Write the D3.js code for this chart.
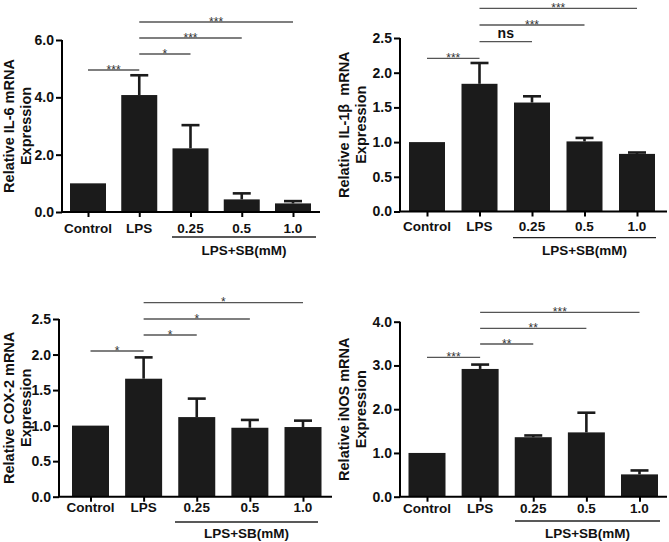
<!DOCTYPE html>
<html>
<head>
<meta charset="utf-8">
<script src="https://cdn.jsdelivr.net/npm/d3@7"></script>
<style>
  html, body { margin: 0; padding: 0; background: #fff; }
  svg { display: block; font-family: "Liberation Sans", Arial, Helvetica, sans-serif; }
</style>
</head>
<body>
<svg id="chart" width="669" height="542"></svg>
<script>
// ---------- DATA ----------
const categories = ["Control", "LPS", "0.25", "0.5", "1.0"];
const groupLabel = "LPS+SB(mM)";

const il6Mean = [1.0, 4.08, 2.22, 0.44, 0.30];
const il6Err  = [0, 0.69, 0.81, 0.21, 0.08];
const il6Ticks = [0, 2, 4, 6];
const il6Sig = [["Control", "LPS", "***"], ["LPS", "0.25", "*"], ["LPS", "0.5", "***"], ["LPS", "1.0", "***"]];

const il1bMean = [1.0, 1.84, 1.57, 1.01, 0.83];
const il1bErr  = [0, 0.30, 0.09, 0.05, 0.02];
const il1bTicks = [0, 0.5, 1.0, 1.5, 2.0, 2.5];
const il1bSig = [["Control", "LPS", "***"], ["LPS", "0.25", "ns"], ["LPS", "0.5", "***"], ["LPS", "1.0", "***"]];

const cox2Mean = [1.0, 1.66, 1.12, 0.97, 0.98];
const cox2Err  = [0, 0.30, 0.26, 0.11, 0.09];
const cox2Ticks = [0, 0.5, 1.0, 1.5, 2.0, 2.5];
const cox2Sig = [["Control", "LPS", "*"], ["LPS", "0.25", "*"], ["LPS", "0.5", "*"], ["LPS", "1.0", "*"]];

const inosMean = [1.0, 2.92, 1.36, 1.47, 0.51];
const inosErr  = [0, 0.10, 0.04, 0.45, 0.09];
const inosTicks = [0, 1, 2, 3, 4];
const inosSig = [["Control", "LPS", "***"], ["LPS", "0.25", "**"], ["LPS", "0.5", "**"], ["LPS", "1.0", "***"]];

// ---------- LAYOUT ----------
const panels = [
  { mean: il6Mean, err: il6Err, ticks: il6Ticks, sig: il6Sig,
    title: ["Relative IL-6 mRNA", "Expression"],
    axisX: 62, base: 212, top: 40, c0: 88, c1: 293, xEnd: 320, barW: 36,
    brY: [70, 54, 38, 22], titleX: 13.5, tickLabY: 233, grpLineY: 237, grpX: [172, 316], grpLabY: 255 },
  { mean: il1bMean, err: il1bErr, ticks: il1bTicks, sig: il1bSig,
    title: ["Relative IL-1\u03b2\u00a0 mRNA", "Expression"],
    axisX: 400, base: 211.5, top: 38, c0: 427, c1: 637, xEnd: 667, barW: 36,
    brY: [58.3, 41.7, 25, 8.3], titleX: 348.5, tickLabY: 231, grpLineY: 237.7, grpX: [513, 656], grpLabY: 255 },
  { mean: cox2Mean, err: cox2Err, ticks: cox2Ticks, sig: cox2Sig,
    title: ["Relative COX-2 mRNA", "Expression"],
    axisX: 59, base: 496.7, top: 319, c0: 90.5, c1: 303, xEnd: 332, barW: 37,
    brY: [351, 335, 319, 302.7], titleX: 13.5, tickLabY: 512, grpLineY: 522, grpX: [175, 318], grpLabY: 538 },
  { mean: inosMean, err: inosErr, ticks: inosTicks, sig: inosSig,
    title: ["Relative iNOS mRNA", "Expression"],
    axisX: 400, base: 496.7, top: 321.7, c0: 427, c1: 639.5, xEnd: 667, barW: 37,
    brY: [357.3, 344, 328.3, 312.3], titleX: 348.5, tickLabY: 513, grpLineY: 521, grpX: [515, 660], grpLabY: 538 }
];

const svg = d3.select("#chart");
const barColor = "#1b1b1b";

panels.forEach(p => {
  const g = svg.append("g");
  const yMax = p.ticks[p.ticks.length - 1];
  const y = d3.scaleLinear().domain([0, yMax]).range([p.base, p.top]);
  const x = d3.scalePoint().domain(categories).range([p.c0, p.c1]);
  const data = categories.map((c, i) => ({ c, m: p.mean[i], e: p.err[i] }));

  // bars
  g.selectAll("rect.bar").data(data).enter().append("rect")
    .attr("class", "bar")
    .attr("x", d => x(d.c) - p.barW / 2)
    .attr("width", p.barW)
    .attr("y", d => y(d.m))
    .attr("height", d => p.base - y(d.m))
    .attr("fill", barColor);

  // error bars (upper only)
  const eb = data.filter(d => d.e > 0);
  g.selectAll("line.ev").data(eb).enter().append("line")
    .attr("x1", d => x(d.c)).attr("x2", d => x(d.c))
    .attr("y1", d => y(d.m)).attr("y2", d => y(d.m + d.e))
    .attr("stroke", barColor).attr("stroke-width", 2.6);
  g.selectAll("line.ec").data(eb).enter().append("line")
    .attr("x1", d => x(d.c) - 9).attr("x2", d => x(d.c) + 9)
    .attr("y1", d => y(d.m + d.e)).attr("y2", d => y(d.m + d.e))
    .attr("stroke", barColor).attr("stroke-width", 2.6);

  // y axis
  const yAxis = d3.axisLeft(y).tickValues(p.ticks).tickFormat(d3.format(".1f")).tickSize(6).tickPadding(2);
  const ya = g.append("g").attr("transform", `translate(${p.axisX},0)`).call(yAxis);
  ya.select(".domain").attr("d", `M0,${p.top}V${p.base}`).attr("stroke", "#000").attr("stroke-width", 2);
  ya.selectAll(".tick line").attr("stroke", "#000").attr("stroke-width", 2);
  ya.selectAll(".tick text").attr("fill", "#111").style("font-size", "14px").style("font-weight", "bold")
    .style("font-family", "\"Liberation Sans\", Arial, sans-serif");

  // x axis
  const xAxis = d3.axisBottom(x).tickSize(5).tickFormat("");
  const xa = g.append("g").attr("transform", `translate(0,${p.base})`).call(xAxis);
  xa.select(".domain").attr("d", `M${p.axisX - 1},0H${p.xEnd}`).attr("stroke", "#000").attr("stroke-width", 2);
  xa.selectAll(".tick line").attr("stroke", "#000").attr("stroke-width", 2);

  // x tick labels
  g.selectAll("text.xl").data(categories).enter().append("text")
    .attr("x", d => x(d)).attr("y", p.tickLabY)
    .attr("text-anchor", "middle")
    .style("font-size", "13.5px").style("font-weight", "bold").attr("fill", "#111")
    .text(d => d);

  // group line and label
  g.append("line").attr("x1", p.grpX[0]).attr("x2", p.grpX[1])
    .attr("y1", p.grpLineY).attr("y2", p.grpLineY)
    .attr("stroke", "#222").attr("stroke-width", 1.3);
  g.append("text").attr("x", (p.grpX[0] + p.grpX[1]) / 2).attr("y", p.grpLabY)
    .attr("text-anchor", "middle")
    .style("font-size", "13.5px").style("font-weight", "bold").attr("fill", "#111")
    .text(groupLabel);

  // y title
  const midY = (p.top + p.base) / 2;
  p.title.forEach((t, i) => {
    g.append("text")
      .attr("transform", `translate(${p.titleX + i * 17.5},${midY}) rotate(-90)`)
      .attr("text-anchor", "middle")
      .style("font-size", "14.5px").style("font-weight", "bold").attr("fill", "#111")
      .style("white-space", "pre")
      .text(t);
  });

  // significance brackets
  p.sig.forEach((s, i) => {
    const xa1 = x(s[0]), xa2 = x(s[1]), by = p.brY[i];
    g.append("line").attr("x1", xa1).attr("x2", xa2).attr("y1", by).attr("y2", by)
      .attr("stroke", "#555").attr("stroke-width", 1.3);
    const isNs = s[2] === "ns";
    g.append("text").attr("x", (xa1 + xa2) / 2).attr("y", isNs ? by - 3.5 : by + 3.5)
      .attr("text-anchor", "middle")
      .style("font-size", isNs ? "14px" : "12px")
      .style("font-weight", isNs ? "bold" : "normal")
      .attr("fill", isNs ? "#111" : "#333")
      .text(s[2]);
  });
});
</script>
</body>
</html>
